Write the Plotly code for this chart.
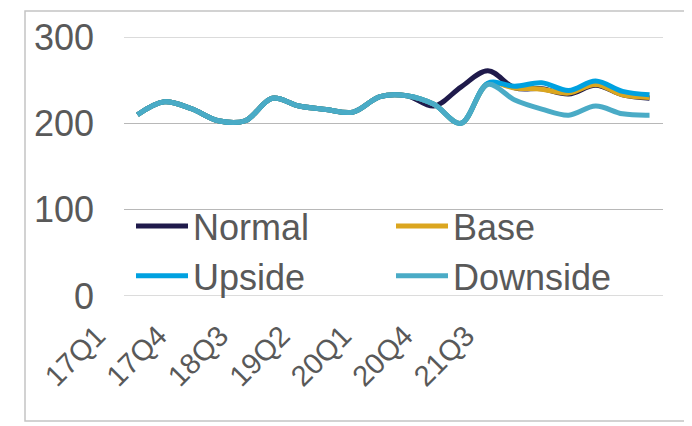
import plotly.graph_objects as go

quarters = ["17Q1", "17Q2", "17Q3", "17Q4", "18Q1", "18Q2", "18Q3", "18Q4",
            "19Q1", "19Q2", "19Q3", "19Q4", "20Q1", "20Q2", "20Q3", "20Q4",
            "21Q1", "21Q2", "21Q3", "21Q4"]
tick_labels = quarters[::3]
y_ticks = [0, 100, 200, 300]

history = [210, 225, 217, 203, 203, 229, 220, 216, 213, 231, 232]
normal = history + [220, 242, 261, 241, 240, 234, 244, 233, 229]
base = history + [222, 200, 246, 241, 239.5, 235, 245, 233, 230]
upside = history + [222, 200, 246.5, 243, 247, 238, 249, 237, 233]
downside = history + [222, 200, 245, 227, 216.5, 209.5, 220, 211, 209.5]

series_names = ["Normal", "Base", "Upside", "Downside"]
series_values = [normal, base, upside, downside]
series_colors = ["#1f1a4b", "#dba61f", "#00a1e0", "#4aabc6"]

W, H = 692, 426
OFF = 8  # page body margin
PL, PR, PT, PB = 124 - OFF, 663 - OFF, 37 - OFF, 296 - OFF  # plot area (figure px)
PH = PB - PT

fig = go.Figure()
for name, vals, col in zip(series_names, series_values, series_colors):
    fig.add_trace(go.Scatter(
        x=list(range(len(quarters))), y=vals, name=name, mode="lines",
        line=dict(color=col, width=5, shape="spline", smoothing=1),
        hoverinfo="skip",
    ))

# empty trace so the label axis gets drawn
fig.add_trace(go.Scatter(x=[], y=[], xaxis="x2", yaxis="y2",
                         showlegend=False, hoverinfo="skip"))

txt = "#595959"
grid = "#b8b8b8"
lab0 = 97 - OFF   # figure px of first category label
lab_step = 20.5

shapes = [dict(
    type="rect", xref="paper", yref="paper",
    x0=(25 - OFF) / W, x1=(689 - OFF) / W,
    y0=(PB - (421 - OFF)) / PH, y1=(PB - (11 - OFF)) / PH,
    line=dict(color="#c4c4c4", width=1.5), fillcolor="rgba(0,0,0,0)",
    layer="below",
)]
for v in (y_ticks[0], y_ticks[-1]):
    shapes.append(dict(type="line", xref="x domain", yref="y",
                       x0=0, x1=1, y0=v, y1=v,
                       line=dict(color=grid, width=1), layer="below"))

fig.update_layout(
    width=W, height=H,
    margin=dict(l=0, r=0, t=PT, b=H - PB, pad=0, autoexpand=False),
    paper_bgcolor="white", plot_bgcolor="rgba(0,0,0,0)",
    font=dict(family="Liberation Sans, Arial, sans-serif", color=txt),
    xaxis=dict(
        domain=[PL / W, PR / W], range=[-0.5, len(quarters) - 0.5],
        showticklabels=False, showgrid=False, zeroline=False, showline=False,
        ticks="", automargin=False,
    ),
    yaxis=dict(
        domain=[0, 1], range=[0, 300], tickvals=y_ticks,
        showgrid=True, gridcolor=grid, gridwidth=1, zeroline=False,
        showline=False, ticks="", tickfont=dict(size=36, color=txt),
        ticklabelstandoff=29, anchor="x", automargin=False,
    ),
    xaxis2=dict(
        domain=[0, 1], anchor="y2", type="linear",
        range=[-lab0 / lab_step, (W - lab0) / lab_step],
        tickvals=[quarters.index(t) for t in tick_labels], ticktext=tick_labels,
        tickangle=-45, tickfont=dict(size=29, color=txt),
        showgrid=False, zeroline=False, showline=False, ticks="",
        ticklabelstandoff=16, automargin=False,
    ),
    yaxis2=dict(
        domain=[0, 1], anchor="x2", range=[0, 300],
        showgrid=False, zeroline=False, showticklabels=False, showline=False,
        ticks="",
    ),
    legend=dict(
        orientation="h", x=123 / W, y=(PB - 188) / PH,
        xanchor="left", yanchor="top",
        entrywidth=193, entrywidthmode="pixels", itemwidth=52,
        font=dict(size=36, color=txt), bgcolor="rgba(0,0,0,0)",
        tracegroupgap=0, traceorder="normal",
    ),
    shapes=shapes,
    showlegend=True,
)

fig.write_html("out.html")
